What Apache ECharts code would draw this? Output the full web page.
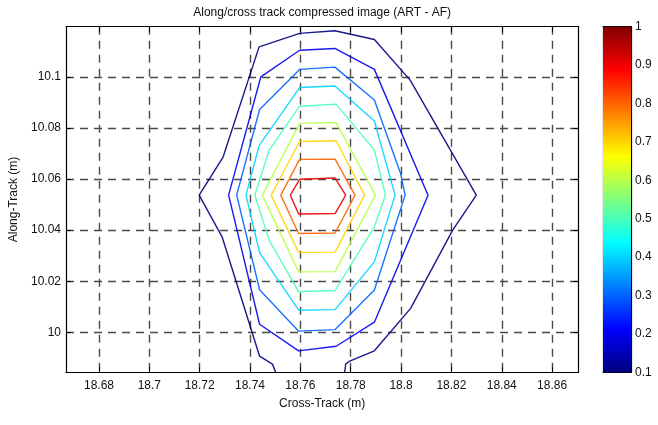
<!DOCTYPE html>
<html>
<head>
<meta charset="utf-8">
<script src="https://cdn.jsdelivr.net/npm/echarts@6/dist/echarts.min.js"></script>
<style>html,body{margin:0;padding:0;background:#fff}#chart{width:658px;height:425px}</style>
</head>
<body>
<div id="chart"></div>
<script>
// ---- data ----
const titleText = 'Along/cross track compressed image (ART - AF)';
const xName = 'Cross-Track (m)';
const yName = 'Along-Track (m)';
const xTicks = [18.68, 18.7, 18.72, 18.74, 18.76, 18.78, 18.8, 18.82, 18.84, 18.86];
const yTicks = [10, 10.02, 10.04, 10.06, 10.08, 10.1];
const xRange = [18.6669, 18.8704];
const yRange = [9.9844, 10.1196];
const cbRange = [0.1, 1];
const cbStep = 0.1;
const levels = [0.1, 0.2, 0.3, 0.4, 0.5, 0.6, 0.7, 0.8, 0.9];

const contour01 = [[18.7502,9.9844],[18.7489,9.9876],[18.7438,9.9907],[18.7289,10.0374],[18.7198,10.0537],[18.7293,10.0686],[18.7436,10.1117],[18.7597,10.1170],[18.7737,10.1180],[18.7894,10.1146],[18.8036,10.0987],[18.8299,10.0537],[18.8205,10.0400],[18.8038,10.0094],[18.7894,9.9928],[18.7796,9.9888],[18.7780,9.9876],[18.7776,9.9844]];
const contour02 = [[18.7315,10.0537],[18.7443,10.1000],[18.7597,10.1104],[18.7737,10.1111],[18.7894,10.1029],[18.8107,10.0537],[18.7894,10.0040],[18.7742,9.9946],[18.7593,9.9928],[18.7438,10.0032],[18.7315,10.0537]];
const contour03 = [[18.7347,10.0537],[18.7438,10.0872],[18.7597,10.1029],[18.7737,10.1038],[18.7894,10.0909],[18.7998,10.0622],[18.8016,10.0537],[18.7894,10.0166],[18.7738,10.0011],[18.7593,10.0005],[18.7438,10.0167],[18.7347,10.0537]];
const contour04 = [[18.7384,10.0537],[18.7436,10.0731],[18.7597,10.0958],[18.7737,10.0964],[18.7894,10.0827],[18.7976,10.0537],[18.7894,10.0276],[18.7738,10.0089],[18.7593,10.0087],[18.7438,10.0312],[18.7384,10.0537]];
const contour05 = [[18.7419,10.0537],[18.7476,10.0713],[18.7597,10.0885],[18.7742,10.0893],[18.7894,10.0713],[18.7938,10.0537],[18.7894,10.0413],[18.7738,10.0164],[18.7593,10.0159],[18.7476,10.0361],[18.7419,10.0537]];
const contour06 = [[18.7449,10.0537],[18.7597,10.0818],[18.7742,10.0821],[18.7898,10.0537],[18.7738,10.0238],[18.7593,10.0237],[18.7449,10.0537]];
const contour07 = [[18.7484,10.0537],[18.7597,10.0747],[18.7742,10.0750],[18.7855,10.0537],[18.7738,10.0314],[18.7593,10.0313],[18.7484,10.0537]];
const contour08 = [[18.7522,10.0537],[18.7597,10.0677],[18.7738,10.0678],[18.7817,10.0537],[18.7738,10.0389],[18.7593,10.0387],[18.7522,10.0537]];
const contour09 = [[18.7560,10.0537],[18.7597,10.0599],[18.7738,10.0604],[18.7780,10.0537],[18.7738,10.0465],[18.7593,10.0463],[18.7560,10.0537]];
const contours = [contour01, contour02, contour03, contour04, contour05, contour06, contour07, contour08, contour09];

// ---- helpers ----
function clamp01(v){ return Math.max(0, Math.min(1, v)); }
function jet(t){
  const r = clamp01(1.5 - Math.abs(4*t - 3));
  const g = clamp01(1.5 - Math.abs(4*t - 2));
  const b = clamp01(1.5 - Math.abs(4*t - 1));
  return 'rgb(' + Math.round(r*255) + ',' + Math.round(g*255) + ',' + Math.round(b*255) + ')';
}
function levelColor(v){ return jet((v - cbRange[0]) / (cbRange[1] - cbRange[0])); }

const FONT = 'Liberation Sans, Arial, Helvetica, sans-serif';
const TXT = '#111';
const gridLine = { show: true, lineStyle: { color: '#4a4a4a', width: 1.4, type: [8, 6] } };

const chart = echarts.init(document.getElementById('chart'), null, { renderer: 'canvas' });

const gradStops = [0, 0.125, 0.375, 0.625, 0.875, 1].map(t => ({ offset: 1 - t, color: jet(t) })).reverse();

const series = contours.map((c, i) => ({
  type: 'line', xAxisIndex: 0, yAxisIndex: 0, data: c,
  showSymbol: false, symbol: 'none', smooth: false, silent: true, z: 3,
  lineStyle: { color: levelColor(levels[i]), width: 1.4, opacity: 0.9 }
}));
series.push({
  type: 'bar', xAxisIndex: 2, yAxisIndex: 2, stack: 'cb', barWidth: '100%', silent: true,
  data: [cbRange[0]], itemStyle: { color: 'rgba(0,0,0,0)' }
});
series.push({
  type: 'bar', xAxisIndex: 2, yAxisIndex: 2, stack: 'cb', barWidth: '100%', silent: true,
  data: [cbRange[1] - cbRange[0]],
  itemStyle: { color: new echarts.graphic.LinearGradient(0, 0, 0, 1, gradStops) }
});

const axisLineBlack = { show: true, onZero: false, lineStyle: { color: '#000', width: 1.2 } };

chart.setOption({
  animation: false,
  backgroundColor: '#fff',
  textStyle: { fontFamily: FONT },
  grid: [
    { left: 59.3, top: 26.7, width: 519, height: 345.6, containLabel: false },
    { left: 603, top: 26.7, width: 28, height: 345.6, containLabel: false }
  ],
  xAxis: [
    { gridIndex: 0, type: 'value', position: 'bottom', min: xRange[0], max: xRange[1],
      axisLine: axisLineBlack,
      axisTick: { show: true, inside: true, length: 5, customValues: xTicks, lineStyle: { color: '#000' } },
      axisLabel: { show: true, customValues: xTicks, fontSize: 12, color: TXT, margin: 7, fontFamily: FONT },
      splitLine: gridLine,
      name: xName, nameLocation: 'middle', nameGap: 25,
      nameTextStyle: { fontSize: 12, color: TXT, fontFamily: FONT } },
    { gridIndex: 0, type: 'value', position: 'top', min: xRange[0], max: xRange[1],
      axisLine: axisLineBlack,
      axisTick: { show: true, inside: true, length: 5, customValues: xTicks, lineStyle: { color: '#000' } },
      axisLabel: { show: false }, splitLine: { show: false },
      name: titleText, nameLocation: 'middle', nameGap: 8,
      nameTextStyle: { fontSize: 12, color: TXT, fontFamily: FONT } },
    { gridIndex: 1, type: 'category', position: 'bottom', data: ['cb'],
      axisLine: axisLineBlack, axisTick: { show: false }, axisLabel: { show: false }, splitLine: { show: false } },
    { gridIndex: 1, type: 'category', position: 'top', data: ['cb'],
      axisLine: axisLineBlack, axisTick: { show: false }, axisLabel: { show: false }, splitLine: { show: false } }
  ],
  yAxis: [
    { gridIndex: 0, type: 'value', position: 'left', min: yRange[0], max: yRange[1],
      axisLine: axisLineBlack,
      axisTick: { show: true, inside: true, length: 5, customValues: yTicks, lineStyle: { color: '#000' } },
      axisLabel: { show: true, customValues: yTicks, fontSize: 12, color: TXT, margin: 5, fontFamily: FONT },
      splitLine: gridLine,
      name: yName, nameLocation: 'middle', nameGap: 46, nameRotate: 90,
      nameTextStyle: { fontSize: 12, color: TXT, fontFamily: FONT } },
    { gridIndex: 0, type: 'value', position: 'right', min: yRange[0], max: yRange[1],
      axisLine: axisLineBlack,
      axisTick: { show: true, inside: true, length: 5, customValues: yTicks, lineStyle: { color: '#000' } },
      axisLabel: { show: false }, splitLine: { show: false } },
    { gridIndex: 1, type: 'value', position: 'right', min: cbRange[0], max: cbRange[1], interval: cbStep,
      axisLine: axisLineBlack,
      axisTick: { show: true, inside: true, length: 3, lineStyle: { color: '#000' } },
      axisLabel: { show: true, fontSize: 12, color: TXT, margin: 4, fontFamily: FONT,
        formatter: v => String(+(+v).toFixed(1)) },
      splitLine: { show: false } },
    { gridIndex: 1, type: 'value', position: 'left', min: cbRange[0], max: cbRange[1], interval: cbStep,
      axisLine: axisLineBlack,
      axisTick: { show: true, inside: true, length: 3, lineStyle: { color: '#000' } },
      axisLabel: { show: false }, splitLine: { show: false } }
  ],
  series: series
});
</script>
</body>
</html>
